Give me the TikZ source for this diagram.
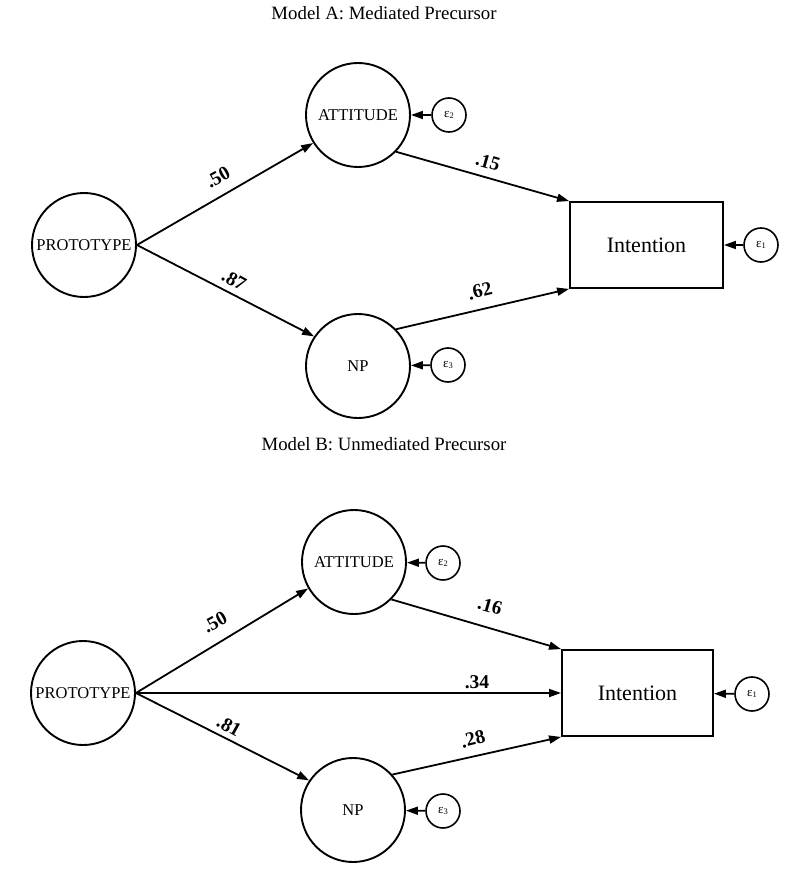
\documentclass[tikz,border=0pt]{standalone}
\usepackage{fontspec}
\setmainfont{Liberation Serif}
\usetikzlibrary{arrows.meta}
\tikzset{
  lat/.style={circle,draw,line width=1.9pt,minimum size=104pt,inner sep=0pt,font=\fontsize{16.5}{18}\selectfont},
  err/.style={circle,draw,line width=1.6pt,minimum size=34pt,inner sep=0pt},
  obs/.style={rectangle,draw,line width=1.9pt,inner sep=0pt,font=\fontsize{22}{24}\selectfont},
  path/.style={line width=1.8pt,-{Triangle[length=12pt,width=8pt]}},
  coef/.style={font=\bfseries\fontsize{19.5}{20}\selectfont},
  ttl/.style={font=\fontsize{18.8}{20}\selectfont,anchor=base}
}
\newcommand{\eps}[1]{{\fontsize{13}{13}\selectfont ε}\raisebox{-0.5pt}{\fontsize{8.5}{8.5}\selectfont #1}}
\begin{document}
\begin{tikzpicture}[x=1pt,y=-1pt]
\useasboundingbox (0,0) rectangle (800,885);
% ---------- Model A ----------
\node[ttl] (tA) at (384,20) {Model A: Mediated Precursor};
\node[lat] (PA) at (84,245) {PROTOTYPE};
\node[lat] (AA) at (358,115) {ATTITUDE};
\node[lat] (NA) at (358,366) {NP};
\node[obs,minimum width=153pt,minimum height=86pt] (IA) at (646.5,245) {Intention};
\node[err] (e2A) at (449,115) {\eps{2}};
\node[err] (e3A) at (448,365) {\eps{3}};
\node[err] (e1A) at (761,245) {\eps{1}};
\draw[path] (PA.east) -- (AA.212);
\draw[path] (PA.east) -- (NA.146);
\draw[path] (AA.-44) -- (IA.north west);
\draw[path] (NA.44) -- (IA.south west);
\draw[path] (e2A) -- (AA);
\draw[path] (e3A) -- (NA);
\draw[path] (e1A) -- (IA);
\node[coef,rotate=29] (cA1) at (218,177) {.50};
\node[coef,rotate=-16] (cA2) at (488,162) {.15};
\node[coef,rotate=-29] (cA3) at (234,280) {.87};
\node[coef,rotate=14] (cA4) at (480,291) {.62};
% ---------- Model B ----------
\node[ttl] (tB) at (384,450) {Model B: Unmediated Precursor};
\node[lat] (PB) at (83,693) {PROTOTYPE};
\node[lat] (AB) at (354,562) {ATTITUDE};
\node[lat] (NB) at (353,810) {NP};
\node[obs,minimum width=151pt,minimum height=86pt] (IB) at (637.5,693) {Intention};
\node[err] (e2B) at (443,563) {\eps{2}};
\node[err] (e3B) at (443,811) {\eps{3}};
\node[err] (e1B) at (752,694) {\eps{1}};
\draw[path] (PB.east) -- (AB.210);
\draw[path] (PB.east) -- (IB.west);
\draw[path] (PB.east) -- (NB.146);
\draw[path] (AB.-45) -- (IB.north west);
\draw[path] (NB.42) -- (IB.south west);
\draw[path] (e2B) -- (AB);
\draw[path] (e3B) -- (NB);
\draw[path] (e1B) -- (IB);
\node[coef,rotate=29] (cB1) at (215,622) {.50};
\node[coef,rotate=-16] (cB2) at (490,606) {.16};
\node[coef] (cB3) at (477,682) {.34};
\node[coef,rotate=-29] (cB4) at (229,726) {.81};
\node[coef,rotate=14] (cB5) at (473,739) {.28};
\end{tikzpicture}
\end{document}
